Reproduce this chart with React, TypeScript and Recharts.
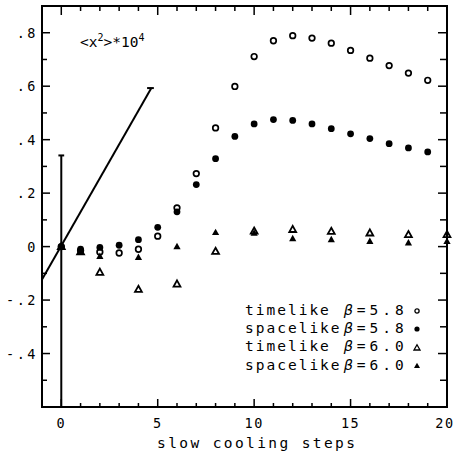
import React from 'react';
import { ComposedChart, Scatter, XAxis, YAxis, ReferenceLine } from 'recharts';

// ---- data ----
const steps58 = [0, 1, 2, 3, 4, 5, 6, 7, 8, 9, 10, 11, 12, 13, 14, 15, 16, 17, 18, 19];
const timelike58 = [0, -0.015, -0.02, -0.024, -0.01, 0.039, 0.145, 0.273, 0.444, 0.599, 0.711, 0.77, 0.789, 0.78, 0.761, 0.734, 0.705, 0.677, 0.649, 0.622];
const spacelike58 = [0, -0.01, -0.003, 0.005, 0.026, 0.072, 0.13, 0.232, 0.329, 0.412, 0.459, 0.475, 0.472, 0.459, 0.441, 0.422, 0.404, 0.385, 0.369, 0.354];
const steps60 = [0, 1, 2, 4, 6, 8, 10, 12, 14, 16, 18, 20];
const timelike60 = [0, -0.02, -0.096, -0.16, -0.14, -0.018, 0.058, 0.064, 0.057, 0.051, 0.045, 0.045];
const spacelike60 = [0, -0.02, -0.036, -0.04, 0.0, 0.053, 0.051, 0.03, 0.026, 0.02, 0.014, 0.02];

const xDomain = [-1, 20];
const yDomain = [-0.6, 0.9];
const xTicks = [0, 1, 2, 3, 4, 5, 6, 7, 8, 9, 10, 11, 12, 13, 14, 15, 16, 17, 18, 19, 20];
const xLabels = [0, 5, 10, 15, 20];
const yTicks = [-0.5, -0.4, -0.3, -0.2, -0.1, 0, 0.1, 0.2, 0.3, 0.4, 0.5, 0.6, 0.7, 0.8];
const yLabels = [-0.4, -0.2, 0, 0.2, 0.4, 0.6, 0.8];

const errorBarX = [0, 0];
const errorBarY = [-0.6, 0.341];
const errorCapX = [-0.15, 0.15];
const slopeLineX = [-1, 4.67];
const slopeLineY = [-0.123, 0.593];
const slopeCapX = [4.45, 4.8];

const legendNames = ['timelike', 'spacelike', 'timelike', 'spacelike'];
const legendBetas = ['5.8', '5.8', '6.0', '6.0'];

const toPoints = (xs: number[], ys: number[]) => xs.map((x, i) => ({ x, y: ys[i] }));

const FONT = '"DejaVu Sans Mono", monospace';
const INK = '#000';

// chart geometry
const W = 454;
const H = 456;
const M = { top: 6, right: 7, bottom: 0, left: 0 };
const Y_AXIS_W = 42;
const X_AXIS_H = 49;
const PLOT_L = M.left + Y_AXIS_W;
const PLOT_T = M.top;
const PLOT_W = W - M.right - PLOT_L;
const PLOT_H = H - M.top - X_AXIS_H;
const sx = (v: number) => PLOT_L + ((v - xDomain[0]) / (xDomain[1] - xDomain[0])) * PLOT_W;
const sy = (v: number) => PLOT_T + ((yDomain[1] - v) / (yDomain[1] - yDomain[0])) * PLOT_H;

const isLabelY = (v: number) => yLabels.some((l) => Math.abs(l - v) < 1e-6);
const fmtY = (v: number) => {
  if (Math.abs(v) < 1e-9) return '0';
  return (v < 0 ? '-' : '') + '.' + Math.round(Math.abs(v) * 10);
};

const BottomLabel = (p: any) => {
  const { x, y, payload } = p;
  const v = payload.value;
  if (!xLabels.includes(v)) return <g />;
  return (
    <text x={v === 20 ? x - 2 : x} y={y + 21} textAnchor="middle" fontFamily={FONT} fontSize={13.5} letterSpacing={1.5} fill={INK}>
      {v}
    </text>
  );
};

const LeftLabel = (p: any) => {
  const { x, y, payload } = p;
  const v = payload.value;
  if (!isLabelY(v)) return <g />;
  return (
    <text x={x - 4} y={y + 5} textAnchor="end" fontFamily={FONT} fontSize={13.5} letterSpacing={2.5} fill={INK}>
      {fmtY(v)}
    </text>
  );
};

const OpenCircle = (p: any) => <circle cx={p.cx} cy={p.cy} r={2.8} fill="#fff" stroke={INK} strokeWidth={1.7} />;
const FilledCircle = (p: any) => <circle cx={p.cx} cy={p.cy} r={3.4} fill={INK} />;
const triPath = (cx: number, cy: number, s: number) =>
  `M${cx},${cy - s} L${cx + s * 0.95},${cy + s * 0.7} L${cx - s * 0.95},${cy + s * 0.7} Z`;
const OpenTri = (p: any) => <path d={triPath(p.cx, p.cy, 3.6)} fill="#fff" stroke={INK} strokeWidth={1.8} />;
const FilledTri = (p: any) => <path d={triPath(p.cx, p.cy, 3.8)} fill={INK} />;

const markerSvg = (i: number) => {
  if (i === 0) return <circle cx={6} cy={6} r={2.1} fill="#fff" stroke={INK} strokeWidth={1.3} />;
  if (i === 1) return <circle cx={6} cy={6} r={2.6} fill={INK} />;
  const d = 'M6,2.8 L9,8 L3,8 Z';
  if (i === 2) return <path d={d} fill="#fff" stroke={INK} strokeWidth={1.3} />;
  return <path d={d} fill={INK} />;
};

const txtStyle = (x: number, baseline: number, size: number, spacing: number): React.CSSProperties => ({
  position: 'absolute',
  left: x,
  top: baseline - 0.846 * size,
  fontFamily: FONT,
  fontSize: size,
  lineHeight: `${size}px`,
  letterSpacing: spacing,
  whiteSpace: 'pre',
  color: INK,
});

const seg = (key: string, x1: number, y1: number, x2: number, y2: number, w: number) => (
  <ReferenceLine
    key={key}
    xAxisId="b"
    yAxisId="l"
    ifOverflow="visible"
    segment={[{ x: x1, y: y1 }, { x: x2, y: y2 }]}
    stroke={INK}
    strokeWidth={w}
  />
);

// frame with inward ticks, placed with the same domain-to-pixel mapping as the chart
const Frame = () => {
  const lines: React.ReactNode[] = [];
  const L = sx(xDomain[0]);
  const R = sx(xDomain[1]);
  const T = sy(yDomain[1]);
  const B = sy(yDomain[0]);
  xTicks.forEach((k) => {
    const major = xLabels.includes(k);
    const x = sx(k);
    lines.push(<line key={`b${k}`} x1={x} x2={x} y1={B} y2={B - (major ? 8 : 4)} />);
    lines.push(<line key={`t${k}`} x1={x} x2={x} y1={T} y2={T + (major ? 9 : 5)} />);
  });
  yTicks.forEach((v) => {
    const major = isLabelY(v);
    const y = sy(v);
    lines.push(<line key={`l${v}`} x1={L} x2={L + (major ? 8 : 5)} y1={y} y2={y} />);
    lines.push(<line key={`r${v}`} x1={R} x2={R - (major ? 9 : 7)} y1={y} y2={y} />);
  });
  return (
    <svg width={W} height={H} style={{ position: 'absolute', left: 0, top: 0, pointerEvents: 'none' }}>
      <g stroke={INK} strokeWidth={1.5}>{lines}</g>
      <rect x={L} y={T} width={R - L} height={B - T} fill="none" stroke={INK} strokeWidth={2} />
    </svg>
  );
};

export default function App() {
  const t58 = toPoints(steps58, timelike58);
  const s58 = toPoints(steps58, spacelike58);
  const t60 = toPoints(steps60, timelike60);
  const s60 = toPoints(steps60, spacelike60);

  return (
    <div style={{ position: 'absolute', left: 0, top: 0, width: W, height: H }}>
      <ComposedChart width={W} height={H} margin={M}>
        <XAxis xAxisId="b" type="number" dataKey="x" domain={xDomain} ticks={xTicks} interval={0} height={X_AXIS_H} tickSize={0} tickMargin={0} tickLine={false} axisLine={false} tick={BottomLabel} />
        <YAxis yAxisId="l" type="number" dataKey="y" domain={yDomain} ticks={yTicks} interval={0} width={Y_AXIS_W} tickSize={0} tickMargin={0} tickLine={false} axisLine={false} tick={LeftLabel} />
        {seg('eb', errorBarX[0], errorBarY[0], errorBarX[1], errorBarY[1], 2)}
        {seg('ec', errorCapX[0], errorBarY[1], errorCapX[1], errorBarY[1], 2)}
        {seg('sl', slopeLineX[0], slopeLineY[0], slopeLineX[1], slopeLineY[1], 2)}
        {seg('sc', slopeCapX[0], slopeLineY[1], slopeCapX[1], slopeLineY[1], 2)}
        <Scatter xAxisId="b" yAxisId="l" data={t58} shape={OpenCircle} isAnimationActive={false} />
        <Scatter xAxisId="b" yAxisId="l" data={s58} shape={FilledCircle} isAnimationActive={false} />
        <Scatter xAxisId="b" yAxisId="l" data={t60} shape={OpenTri} isAnimationActive={false} />
        <Scatter xAxisId="b" yAxisId="l" data={s60} shape={FilledTri} isAnimationActive={false} />
      </ComposedChart>
      <Frame />
      <div style={txtStyle(80, 47, 14.5, 0)}>
        {'<x'}
        <span style={{ fontSize: 10, position: 'relative', top: -6 }}>2</span>
        {'>*10'}
        <span style={{ fontSize: 10, position: 'relative', top: -6 }}>4</span>
      </div>
      {legendNames.map((name, i) => {
        const by = 315 + i * 18.35;
        return (
          <React.Fragment key={i}>
            <div style={txtStyle(245, by, 14.5, 2)}>{name}</div>
            <div style={txtStyle(344, by, 14.5, 4)}>
              <span style={{ fontStyle: 'italic' }}>β</span>={legendBetas[i]}
            </div>
            <svg width={12} height={12} style={{ position: 'absolute', left: 411, top: by - 10 }}>
              {markerSvg(i)}
            </svg>
          </React.Fragment>
        );
      })}
      <div style={txtStyle(157, 448, 14.5, 2.4)}>slow cooling steps</div>
    </div>
  );
}
